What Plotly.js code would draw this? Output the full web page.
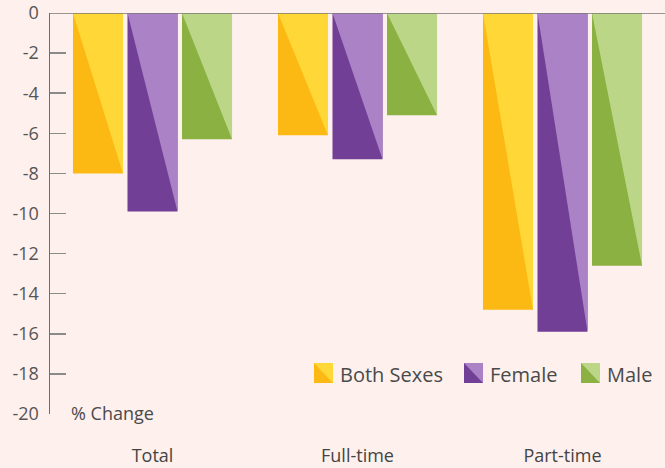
<!DOCTYPE html>
<html>
<head>
<meta charset="utf-8">
<script src="https://cdn.plot.ly/plotly-3.0.1.min.js"></script>
<style>html,body{margin:0;padding:0;background:#fdf0ed;}#chart{width:665px;height:468px;}</style>
</head>
<body>
<div id="chart"></div>
<script>
// ---- data ----
const categories = ["Total", "Full-time", "Part-time"];
const seriesNames = ["Both Sexes", "Female", "Male"];
const bothSexes = [-8.0, -6.1, -14.8];
const female = [-9.9, -7.3, -15.9];
const male = [-6.3, -5.1, -12.6];
const yTicks = [0, -2, -4, -6, -8, -10, -12, -14, -16, -18, -20];

// ---- style ----
const darkColors = ["#FDB913", "#723F97", "#8BB143"];
const lightColors = ["#FFD837", "#AB82C5", "#BBD686"];
const BG = "#fdf0ed";
const FONT = "Open Sans, sans-serif";
const W = 665, H = 468;
const M = {l: 50, r: 0, t: 13, b: 54};
const SLOT = 0.2659;   // width of one bar slot in category units
const BAR_W = 0.244;   // bar width in category units

const values = [bothSexes, female, male];
const xIdx = categories.map((c, i) => i);

const traces = [];
values.forEach((vals, s) => {
  const off = (s - 1) * SLOT;
  const xs = xIdx.map(i => i + off);
  traces.push({
    type: "bar", x: xs, y: vals, width: BAR_W,
    marker: {color: darkColors[s], line: {width: 0}},
    hoverinfo: "y", name: seriesNames[s], showlegend: false
  });
});
// light triangle overlays (upper-right half of each bar)
values.forEach((vals, s) => {
  const off = (s - 1) * SLOT;
  const tx = [], ty = [];
  vals.forEach((v, i) => {
    const l = i + off - BAR_W / 2, r = i + off + BAR_W / 2;
    tx.push(l, r, r, l, null);
    ty.push(0, 0, v, 0, null);
  });
  traces.push({
    type: "scatter", mode: "lines", x: tx, y: ty, fill: "toself",
    fillcolor: lightColors[s], line: {width: 0, color: lightColors[s]},
    hoverinfo: "skip", showlegend: false
  });
});

// pixel -> paper helpers
const pw = W - M.l - M.r, ph = H - M.t - M.b;
const px = x => (x - M.l) / pw;
const py = y => (H - M.b - y) / ph;

const shapes = [
  {type: "line", xref: "paper", yref: "y", x0: 0, x1: 1, y0: 0, y1: 0,
   line: {color: "#777", width: 1.5}}
];
const annotations = [
  {xref: "paper", yref: "paper", x: px(69), y: py(413), xanchor: "left", yanchor: "middle",
   text: "% Change", showarrow: false, font: {family: FONT, size: 18, color: "#4a4a4a"}}
];
const legendX = [314, 464, 581];
seriesNames.forEach((n, s) => {
  const x0 = legendX[s], x1 = x0 + 19, y0 = 363, y1 = 383;
  shapes.push({type: "rect", xref: "paper", yref: "paper", x0: px(x0), x1: px(x1), y0: py(y1), y1: py(y0),
    fillcolor: darkColors[s], line: {width: 0}});
  shapes.push({type: "path", xref: "paper", yref: "paper",
    path: `M ${px(x0)} ${py(y0)} L ${px(x1)} ${py(y0)} L ${px(x1)} ${py(y1)} Z`,
    fillcolor: lightColors[s], line: {width: 0}});
  annotations.push({xref: "paper", yref: "paper", x: px(x1 + 5), y: py(374), xanchor: "left", yanchor: "middle",
    text: n, showarrow: false, font: {family: FONT, size: 20, color: "#4a4a4a"}});
});

const layout = {
  width: W, height: H, margin: M,
  paper_bgcolor: BG, plot_bgcolor: BG,
  barmode: "overlay", showlegend: false,
  font: {family: FONT, color: "#555"},
  xaxis: {
    range: [-0.5, 2.5], tickvals: xIdx, ticktext: categories,
    showgrid: false, zeroline: false, showline: false, ticks: "",
    tickfont: {family: FONT, size: 18, color: "#444"}, ticklabelstandoff: 29, fixedrange: true
  },
  yaxis: {
    range: [-20, 0], tickvals: yTicks, ticktext: yTicks.map(String),
    showgrid: false, zeroline: false, showline: true, linecolor: "#6d6d6d", linewidth: 1.5,
    ticks: "inside", ticklen: 16, tickwidth: 1.5, tickcolor: "#8a8a8a",
    tickfont: {family: FONT, size: 18, color: "#555"}, ticklabelstandoff: 6, fixedrange: true
  },
  shapes: shapes, annotations: annotations
};

Plotly.newPlot("chart", traces, layout, {displayModeBar: false, staticPlot: true});
</script>
</body>
</html>
